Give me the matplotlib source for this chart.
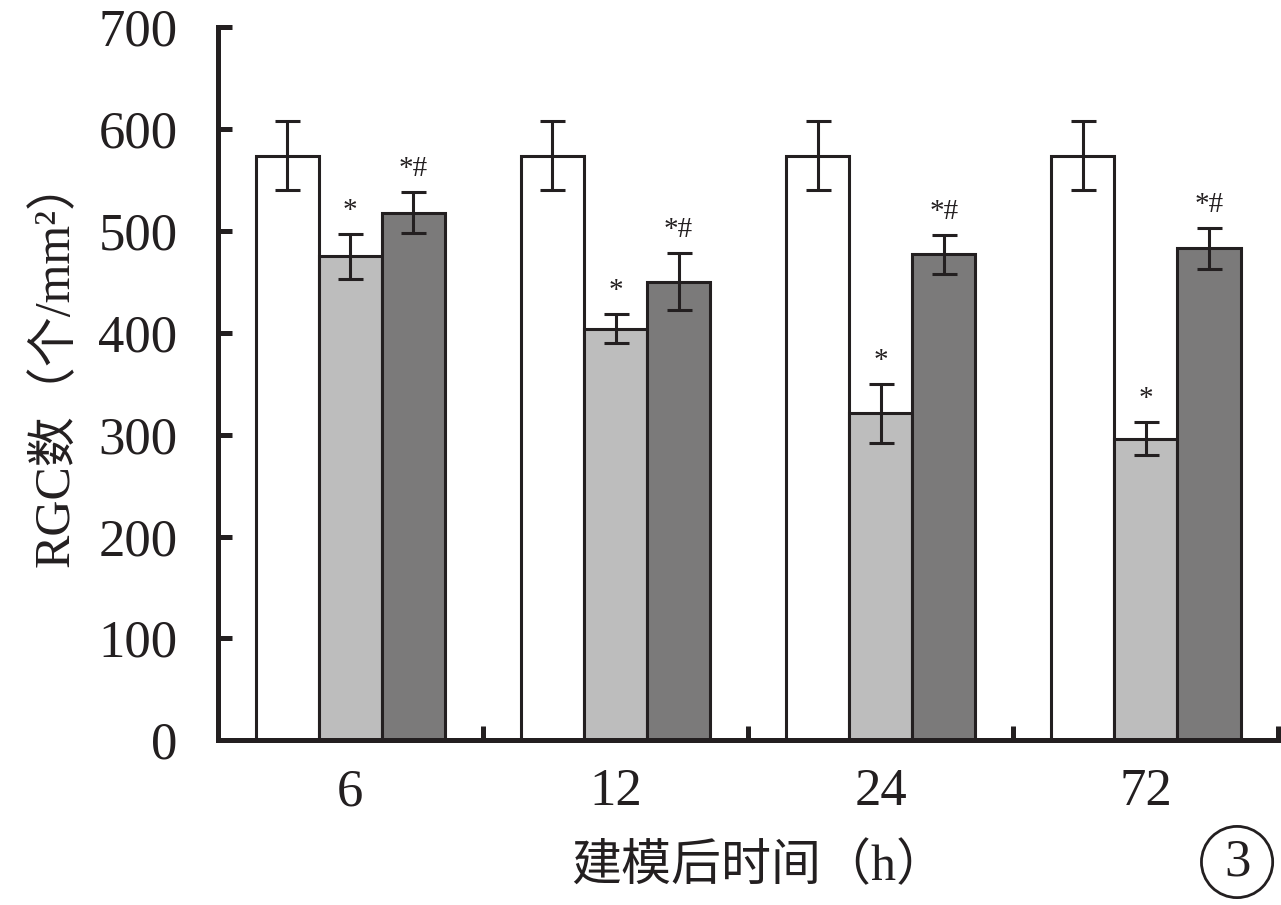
import numpy as np
import matplotlib.pyplot as plt

plt.rcParams['font.family'] = ['Liberation Serif', 'Noto Sans CJK SC', 'DejaVu Sans']

hours = ['6', '12', '24', '72']
normal = [574, 574, 574, 574]
normal_err = [34, 34, 34, 34]
model = [475, 404, 321, 296]
model_err = [22, 14, 29, 16]
treat = [518, 450, 477, 483]
treat_err = [20, 28, 19, 20]
model_mark = ['*', '*', '*', '*']
treat_mark = ['*#', '*#', '*#', '*#']

fig = plt.figure(figsize=(12.81, 9.05), dpi=100)
ax = fig.add_axes([0.170, 0.182, 0.828, 0.788])

x = np.arange(len(hours))
w = 0.238
ekw = dict(elinewidth=2.2, capthick=2.2, capsize=9, ecolor='#231f20')
series = [(normal, normal_err, 'white', -w),
          (model, model_err, '#bdbdbd', 0),
          (treat, treat_err, '#7b7a7a', w)]
for vals, errs, col, off in series:
    ax.bar(x + off, vals, w, yerr=errs, color=col, edgecolor='#231f20',
           linewidth=2.2, error_kw=ekw, zorder=2)

for i in range(len(hours)):
    ax.text(x[i], model[i] + model_err[i] + 10, model_mark[i], ha='center',
            va='bottom', fontsize=21, color='#231f20')
    ax.text(x[i] + w, treat[i] + treat_err[i] + 10, treat_mark[i], ha='center',
            va='bottom', fontsize=21, color='#231f20')

ax.set_xlim(-0.5, 3.5)
ax.set_ylim(0, 700)
ax.set_yticks(np.arange(0, 701, 100))
ax.set_xticks(x + 0.5)
ax.set_xticklabels([])
ax.set_xticks(x, minor=True)
ax.set_xticklabels(hours, minor=True)

for s in ['top', 'right']:
    ax.spines[s].set_visible(False)
for s in ['left', 'bottom']:
    ax.spines[s].set_linewidth(3.6)
    ax.spines[s].set_color('#231f20')

ax.tick_params(axis='y', direction='in', length=10, width=3.6, pad=29,
               labelsize=38, colors='#231f20')
ax.tick_params(axis='x', which='major', direction='in', length=10, width=3.6,
               colors='#231f20')
ax.tick_params(axis='x', which='minor', length=0, pad=20, labelsize=38,
               labelcolor='#231f20')

ax.set_ylabel('RGC数（个/mm²）', fontsize=36, color='#231f20')
ax.yaxis.set_label_coords(-0.13, 0.53)
ax.set_xlabel('建模后时间（h）', fontsize=36, color='#231f20')
ax.xaxis.set_label_coords(0.51, -0.145)

fig.text(0.9657, 0.0475, '3', ha='center', va='center', fontsize=38,
         color='#231f20',
         bbox=dict(boxstyle='circle,pad=0.22', fc='white', ec='#231f20', lw=2))

fig.savefig('out.png', dpi=100)
